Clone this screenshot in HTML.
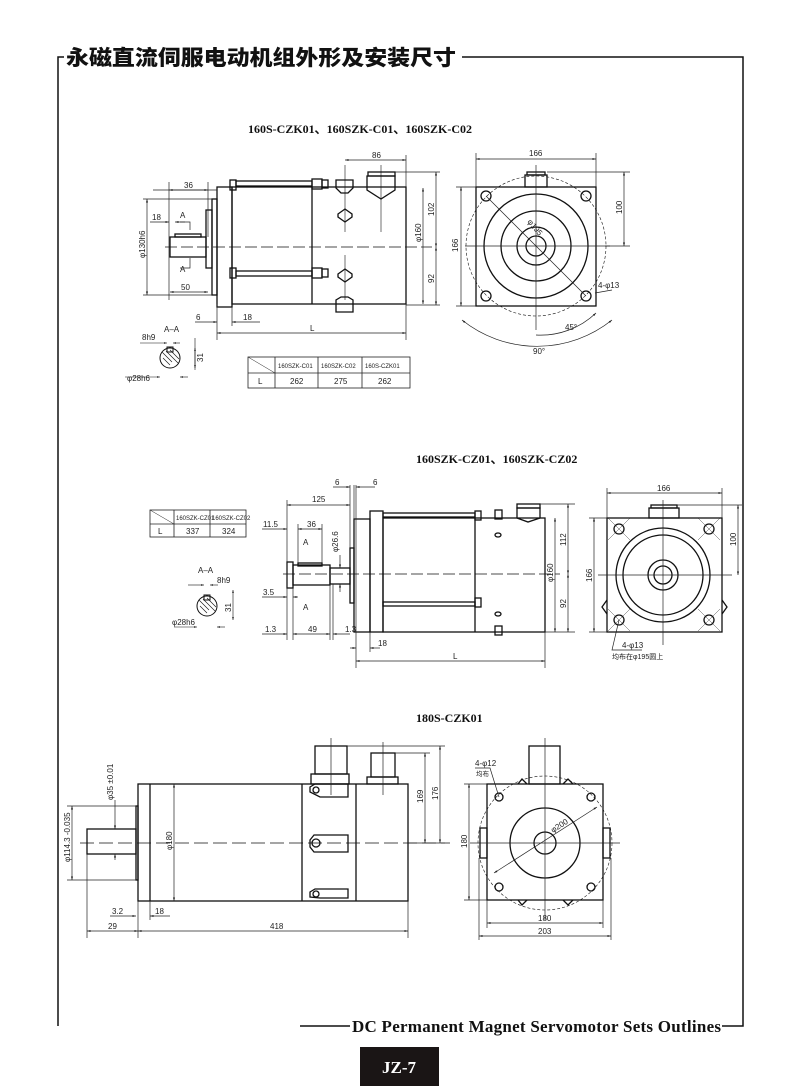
<!DOCTYPE html>
<html><head><meta charset="utf-8"><style>
html,body{margin:0;padding:0;background:#fff;}
svg{display:block}
.t{font-family:"Liberation Sans Narrow","Liberation Sans",sans-serif;font-size:8px;fill:#222}
.s{font-family:"Liberation Sans Narrow","Liberation Sans",sans-serif;font-size:6px;fill:#222}
.h{font-family:"Liberation Serif",serif;font-weight:bold;font-size:12px;fill:#111}
</style></head><body>
<svg width="800" height="1086" viewBox="0 0 800 1086" xmlns="http://www.w3.org/2000/svg">
<defs>
<marker id="a" viewBox="0 0 10 10" refX="10" refY="5" markerWidth="5" markerHeight="5" orient="auto-start-reverse"><path d="M0,2L10,5L0,8z" fill="#222"/></marker>
</defs>
<g stroke="#111" fill="none" stroke-width="1.5">
<path d="M58,1026V57H64"/>
<path d="M462,57H743V1026H722"/>
<path d="M300,1026H350"/>
</g>
<text x="66" y="65" font-family="'Noto Sans CJK SC','WenQuanYi Zen Hei',sans-serif" font-weight="900" font-size="21" fill="#111" textLength="390" lengthAdjust="spacingAndGlyphs">永磁直流伺服电动机组外形及安装尺寸</text>
<text x="352" y="1032" font-family="'Liberation Serif',serif" font-weight="bold" font-size="17" fill="#111" textLength="369">DC Permanent Magnet Servomotor Sets Outlines</text>
<rect x="360" y="1047" width="79" height="39" fill="#1a1515"/>
<text x="399" y="1073" text-anchor="middle" font-family="'Liberation Serif',serif" font-weight="bold" font-size="17" fill="#fff">JZ-7</text>

<text class="h" x="248" y="133">160S-CZK01、160SZK-C01、160SZK-C02</text>
<text class="h" x="416" y="463">160SZK-CZ01、160SZK-CZ02</text>
<text class="h" x="416" y="722">180S-CZK01</text>

<g stroke="#111" fill="none" stroke-width="1.3">
<rect x="170" y="237" width="36" height="20"/>
<rect x="175" y="234" width="26" height="3"/>
<rect x="206" y="210" width="6" height="58"/>
<rect x="212" y="199" width="5" height="96"/>
<rect x="217" y="187" width="15" height="120"/>
<rect x="230" y="180" width="6" height="10"/>
<rect x="230" y="268" width="6" height="10"/>
<rect x="232" y="187" width="174" height="117"/>
<line x1="312" y1="187" x2="312" y2="304"/>
<rect x="236" y="181" width="76" height="5"/>
<rect x="236" y="271" width="76" height="5"/>
<rect x="312" y="179" width="10" height="10"/><rect x="322" y="180" width="6" height="8"/>
<rect x="312" y="268" width="10" height="10"/><rect x="322" y="269" width="6" height="8"/>
<path d="M336,180H353V188L348,193H341L336,188Z"/>
<path d="M367,176H395V190L381,199L367,190Z"/>
<rect x="368" y="172" width="27" height="4"/>
<path d="M338,214L345,209L352,214L352,217L345,222L338,217Z"/>
<path d="M338,274L345,269L352,274L352,277L345,282L338,277Z"/>
<path d="M336,304V300L341,297H348L353,300V312H336Z"/>
<line x1="165" y1="247" x2="432" y2="247" stroke-dasharray="12,4" stroke-width=".8"/>
<line x1="345" y1="165" x2="345" y2="232" stroke-width=".6"/>
<line x1="381" y1="165" x2="381" y2="232" stroke-width=".6"/>
<line x1="345" y1="255" x2="345" y2="300" stroke-width=".6"/>
</g>
<g stroke="#222" fill="none" stroke-width=".7">
<line x1="345" y1="160" x2="406" y2="160" marker-start="url(#a)" marker-end="url(#a)"/>
<line x1="406" y1="155" x2="406" y2="187"/>
<line x1="395" y1="172" x2="440" y2="172"/><line x1="406" y1="305" x2="440" y2="305"/>
<line x1="436" y1="172" x2="436" y2="247" marker-start="url(#a)" marker-end="url(#a)"/>
<line x1="436" y1="247" x2="436" y2="305" marker-start="url(#a)" marker-end="url(#a)"/>
<line x1="423" y1="188" x2="423" y2="304" marker-start="url(#a)" marker-end="url(#a)"/>
<line x1="169" y1="190" x2="208" y2="190" marker-start="url(#a)" marker-end="url(#a)"/>
<line x1="153" y1="190" x2="217" y2="190"/>
<line x1="169" y1="182" x2="169" y2="300"/><line x1="208" y1="182" x2="208" y2="237"/>
<line x1="150" y1="222" x2="169" y2="222" marker-end="url(#a)"/><line x1="175" y1="222" x2="185" y2="222" marker-start="url(#a)"/>
<line x1="147" y1="199" x2="147" y2="295" marker-start="url(#a)" marker-end="url(#a)"/>
<line x1="143" y1="199" x2="212" y2="199"/><line x1="143" y1="295" x2="212" y2="295"/>
<line x1="170" y1="292" x2="208" y2="292" marker-start="url(#a)" marker-end="url(#a)"/>
<path d="M180,222H190V230M180,268H190V258"/>
<line x1="195" y1="322" x2="217" y2="322" marker-end="url(#a)"/><line x1="232" y1="322" x2="260" y2="322" marker-start="url(#a)"/>
<line x1="217" y1="304" x2="217" y2="340"/><line x1="232" y1="307" x2="232" y2="326"/>
<line x1="406" y1="304" x2="406" y2="340"/>
<line x1="217" y1="333" x2="406" y2="333" marker-start="url(#a)" marker-end="url(#a)"/>
</g>
<text class="t" x="372" y="158">86</text>
<text class="t" x="184" y="188">36</text>
<text class="t" x="152" y="220">18</text>
<text class="t" x="180" y="218">A</text><text class="t" x="180" y="272">A</text>
<text class="t" x="181" y="290">50</text>
<text class="t" x="196" y="320">6</text><text class="t" x="243" y="320">18</text>
<text class="t" x="310" y="331">L</text>
<text class="t" transform="translate(145,258) rotate(-90)">φ130h6</text>
<text class="t" transform="translate(421,242) rotate(-90)">φ160</text>
<text class="t" transform="translate(434,216) rotate(-90)">102</text>
<text class="t" transform="translate(434,283) rotate(-90)">92</text>
<g stroke="#111" fill="none" stroke-width="1">
<circle cx="170" cy="358" r="10"/>
<path d="M162,352L172,362M163,358L170,365M166,351L178,363M170,350L179,359" stroke-width=".6"/>
<rect x="167" y="347" width="6" height="5"/>
<line x1="140" y1="343" x2="167" y2="343" stroke-width=".6" marker-end="url(#a)"/><line x1="173" y1="343" x2="180" y2="343" stroke-width=".6" marker-start="url(#a)"/>
<line x1="195" y1="338" x2="195" y2="370" stroke-width=".6"/>
<line x1="195" y1="348" x2="195" y2="368" stroke-width=".6" marker-start="url(#a)" marker-end="url(#a)"/>
<line x1="125" y1="377" x2="160" y2="377" stroke-width=".6" marker-end="url(#a)"/><line x1="180" y1="377" x2="188" y2="377" stroke-width=".6" marker-start="url(#a)"/>
</g>
<text class="t" x="142" y="340">8h9</text><text class="t" x="164" y="332">A–A</text>
<text class="t" transform="translate(203,362) rotate(-90)">31</text>
<text class="t" x="127" y="381">φ28h6</text>
<g stroke="#222" fill="none" stroke-width=".8">
<rect x="248" y="357" width="162" height="31"/>
<line x1="248" y1="373" x2="410" y2="373"/>
<line x1="275" y1="357" x2="275" y2="388"/><line x1="318" y1="357" x2="318" y2="388"/><line x1="362" y1="357" x2="362" y2="388"/>
<line x1="248" y1="357" x2="275" y2="373" stroke-width=".5"/>
</g>
<text class="s" x="278" y="368">160SZK-C01</text><text class="s" x="321" y="368">160SZK-C02</text><text class="s" x="365" y="368">160S-CZK01</text>
<text class="t" x="258" y="384">L</text><text class="t" x="290" y="384">262</text><text class="t" x="334" y="384">275</text><text class="t" x="378" y="384">262</text>

<g stroke="#111" fill="none" stroke-width="1.3">
<rect x="476" y="187" width="120" height="119"/>
<rect x="525" y="175" width="22" height="12"/><rect x="527" y="172" width="18" height="3"/>
<circle cx="536" cy="246" r="52"/><circle cx="536" cy="246" r="35"/><circle cx="536" cy="246" r="19"/><circle cx="536" cy="246" r="10"/>
<circle cx="536" cy="246" r="70" stroke-dasharray="3,2" stroke-width=".6"/>
<circle cx="486" cy="196" r="5"/><circle cx="586" cy="196" r="5"/><circle cx="486" cy="296" r="5"/><circle cx="586" cy="296" r="5"/>
</g>
<g stroke="#222" fill="none" stroke-width=".7">
<line x1="465" y1="246" x2="610" y2="246"/><line x1="536" y1="165" x2="536" y2="330"/>
<line x1="486" y1="196" x2="586" y2="296"/>
<line x1="476" y1="159" x2="596" y2="159" marker-start="url(#a)" marker-end="url(#a)"/>
<line x1="476" y1="153" x2="476" y2="187"/><line x1="596" y1="153" x2="596" y2="187"/>
<line x1="461" y1="187" x2="461" y2="306" marker-start="url(#a)" marker-end="url(#a)"/>
<line x1="456" y1="187" x2="476" y2="187"/><line x1="456" y1="306" x2="476" y2="306"/>
<line x1="624" y1="172" x2="624" y2="246" marker-start="url(#a)" marker-end="url(#a)"/>
<line x1="547" y1="172" x2="630" y2="172"/><line x1="605" y1="246" x2="630" y2="246"/>
<path d="M462,320A120,120 0 0 0 612,320" marker-start="url(#a)" marker-end="url(#a)"/>
<path d="M536,335A80,80 0 0 0 596,313" marker-end="url(#a)"/>
<line x1="595" y1="293" x2="612" y2="290"/>
</g>
<text class="t" x="529" y="156">166</text>
<text class="t" transform="translate(458,252) rotate(-90)">166</text>
<text class="t" transform="translate(622,214) rotate(-90)">100</text>
<text class="t" transform="translate(527,222) rotate(50)">φ195</text>
<text class="t" x="598" y="288">4-φ13</text>
<text class="t" x="565" y="330">45°</text>
<text class="t" x="533" y="354">90°</text>

<g stroke="#111" fill="none" stroke-width="1.3">
<rect x="287" y="562" width="6" height="26"/>
<rect x="293" y="565" width="37" height="20"/>
<rect x="298" y="563" width="24" height="3"/>
<rect x="330" y="568" width="20" height="16"/>
<rect x="350" y="548" width="4" height="55"/>
<rect x="354" y="519" width="16" height="113"/>
<rect x="370" y="511" width="13" height="121"/>
<rect x="383" y="518" width="162" height="114"/>
<line x1="475" y1="518" x2="475" y2="632"/>
<rect x="383" y="513" width="92" height="4"/>
<rect x="383" y="602" width="92" height="4"/>
<rect x="475" y="511" width="6" height="9"/><rect x="475" y="598" width="6" height="9"/>
<rect x="495" y="510" width="7" height="9"/><rect x="495" y="626" width="7" height="9"/>
<ellipse cx="498" cy="535" rx="3" ry="2"/><ellipse cx="498" cy="614" rx="3" ry="2"/>
<path d="M517,508H540V518L528,522L517,518Z"/><rect x="517" y="504" width="23" height="4"/>
<line x1="283" y1="574" x2="560" y2="574" stroke-dasharray="12,4" stroke-width=".8"/>
</g>
<g stroke="#222" fill="none" stroke-width=".7">
<line x1="287" y1="505" x2="350" y2="505" marker-start="url(#a)" marker-end="url(#a)"/>
<line x1="287" y1="500" x2="287" y2="640"/><line x1="350" y1="485" x2="350" y2="548"/>
<line x1="354" y1="485" x2="354" y2="519"/><line x1="356" y1="485" x2="356" y2="668"/>
<line x1="333" y1="487" x2="350" y2="487" marker-end="url(#a)"/><line x1="356" y1="487" x2="375" y2="487" marker-start="url(#a)"/>
<line x1="298" y1="529" x2="322" y2="529" marker-start="url(#a)" marker-end="url(#a)"/>
<line x1="298" y1="524" x2="298" y2="563"/><line x1="322" y1="524" x2="322" y2="563"/>
<line x1="262" y1="529" x2="287" y2="529" marker-end="url(#a)"/>
<line x1="340" y1="555" x2="340" y2="568" marker-end="url(#a)"/><line x1="340" y1="584" x2="340" y2="592" marker-start="url(#a)"/>
<line x1="262" y1="597" x2="287" y2="597" marker-end="url(#a)"/><line x1="293" y1="597" x2="298" y2="597" marker-start="url(#a)"/>
<line x1="293" y1="588" x2="293" y2="640"/><line x1="330" y1="584" x2="330" y2="640"/><line x1="333" y1="584" x2="333" y2="640"/>
<line x1="262" y1="634" x2="287" y2="634" marker-end="url(#a)"/><line x1="293" y1="634" x2="330" y2="634" marker-start="url(#a)" marker-end="url(#a)"/><line x1="333" y1="634" x2="350" y2="634" marker-start="url(#a)"/>
<line x1="350" y1="648" x2="356" y2="648" marker-end="url(#a)"/><line x1="370" y1="648" x2="380" y2="648" marker-start="url(#a)"/>
<line x1="370" y1="632" x2="370" y2="652"/>
<line x1="356" y1="661" x2="545" y2="661" marker-start="url(#a)" marker-end="url(#a)"/>
<line x1="545" y1="632" x2="545" y2="668"/>
<line x1="555" y1="518" x2="555" y2="632" marker-start="url(#a)" marker-end="url(#a)"/>
<line x1="568" y1="504" x2="568" y2="574" marker-start="url(#a)" marker-end="url(#a)"/>
<line x1="568" y1="574" x2="568" y2="632" marker-start="url(#a)" marker-end="url(#a)"/>
<line x1="540" y1="504" x2="575" y2="504"/><line x1="545" y1="632" x2="575" y2="632"/>
</g>
<text class="t" x="312" y="502">125</text>
<text class="t" x="335" y="485">6</text><text class="t" x="373" y="485">6</text>
<text class="t" x="307" y="527">36</text><text class="t" x="263" y="527">11.5</text>
<text class="t" x="303" y="545">A</text><text class="t" x="303" y="610">A</text>
<text class="t" transform="translate(338,552) rotate(-90)">φ26.6</text>
<text class="t" x="263" y="595">3.5</text>
<text class="t" x="265" y="632">1.3</text><text class="t" x="308" y="632">49</text><text class="t" x="345" y="632">1.3</text>
<text class="t" x="378" y="646">18</text><text class="t" x="453" y="659">L</text>
<text class="t" transform="translate(553,582) rotate(-90)">φ160</text>
<text class="t" transform="translate(566,546) rotate(-90)">112</text>
<text class="t" transform="translate(566,608) rotate(-90)">92</text>
<g stroke="#222" fill="none" stroke-width=".8">
<rect x="150" y="510" width="96" height="27"/>
<line x1="150" y1="524" x2="246" y2="524"/>
<line x1="174" y1="510" x2="174" y2="537"/><line x1="210" y1="510" x2="210" y2="537"/>
<line x1="150" y1="510" x2="174" y2="524" stroke-width=".5"/>
</g>
<text class="s" x="176" y="520" font-size="5.5">160SZK-CZ01</text><text class="s" x="212" y="520" font-size="5.5">160SZK-CZ02</text>
<text class="t" x="158" y="534">L</text><text class="t" x="186" y="534">337</text><text class="t" x="222" y="534">324</text>
<g stroke="#111" fill="none" stroke-width="1">
<circle cx="207" cy="606" r="10"/>
<path d="M199,600L209,610M200,606L207,613M203,599L215,611M207,598L216,607" stroke-width=".6"/>
<rect x="204" y="595" width="6" height="5"/>
<line x1="188" y1="585" x2="204" y2="585" stroke-width=".6" marker-end="url(#a)"/><line x1="210" y1="585" x2="218" y2="585" stroke-width=".6" marker-start="url(#a)"/>
<line x1="233" y1="590" x2="233" y2="620" stroke-width=".6" marker-start="url(#a)" marker-end="url(#a)"/>
<line x1="174" y1="627" x2="197" y2="627" stroke-width=".6" marker-end="url(#a)"/><line x1="217" y1="627" x2="225" y2="627" stroke-width=".6" marker-start="url(#a)"/>
</g>
<text class="t" x="198" y="573">A–A</text><text class="t" x="217" y="583">8h9</text>
<text class="t" transform="translate(231,612) rotate(-90)">31</text>
<text class="t" x="172" y="625">φ28h6</text>

<g stroke="#111" fill="none" stroke-width="1.3">
<rect x="607" y="518" width="115" height="114"/>
<rect x="649" y="508" width="30" height="10"/><rect x="651" y="505" width="26" height="3"/>
<circle cx="663" cy="575" r="47"/><circle cx="663" cy="575" r="40"/><circle cx="663" cy="575" r="15"/><circle cx="663" cy="575" r="9"/>
<circle cx="619" cy="529" r="5"/><circle cx="709" cy="529" r="5"/><circle cx="619" cy="620" r="5"/><circle cx="709" cy="620" r="5"/>
<path d="M607,600L602,607L607,614M722,600L727,607L722,614"/>
</g>
<g stroke="#222" fill="none" stroke-width=".7">
<line x1="598" y1="575" x2="732" y2="575"/><line x1="663" y1="500" x2="663" y2="645"/>
<path d="M608,518L630,540M630,518L608,540M698,518L720,540M720,518L698,540M608,609L630,631M630,609L608,631M698,609L720,631M720,609L698,631" stroke-width=".4"/>
<line x1="607" y1="493" x2="722" y2="493" marker-start="url(#a)" marker-end="url(#a)"/>
<line x1="607" y1="488" x2="607" y2="518"/><line x1="722" y1="488" x2="722" y2="518"/>
<line x1="594" y1="518" x2="594" y2="632" marker-start="url(#a)" marker-end="url(#a)"/>
<line x1="589" y1="518" x2="607" y2="518"/><line x1="589" y1="632" x2="607" y2="632"/>
<line x1="738" y1="505" x2="738" y2="575" marker-start="url(#a)" marker-end="url(#a)"/>
<line x1="677" y1="505" x2="742" y2="505"/>
<path d="M619,620L612,650H642"/>
</g>
<text class="t" x="657" y="491">166</text>
<text class="t" transform="translate(592,582) rotate(-90)">166</text>
<text class="t" transform="translate(736,546) rotate(-90)">100</text>
<text class="t" x="622" y="648">4-φ13</text>
<text x="612" y="659" font-family="'Liberation Sans','Noto Sans CJK SC',sans-serif" font-size="7" fill="#222">均布在φ195圆上</text>

<g stroke="#111" fill="none" stroke-width="1.3">
<rect x="87" y="829" width="49" height="25"/>
<rect x="136" y="806" width="2" height="74"/>
<rect x="138" y="784" width="270" height="117"/>
<line x1="150" y1="784" x2="150" y2="901"/>
<line x1="302" y1="784" x2="302" y2="901"/><line x1="356" y1="784" x2="356" y2="901"/>
<rect x="315" y="746" width="32" height="28"/><rect x="311" y="774" width="38" height="10"/>
<rect x="371" y="753" width="24" height="24"/><rect x="367" y="777" width="31" height="7"/>
<path d="M310,787L315,784H348V797H320L310,792Z"/><circle cx="316" cy="790" r="3"/>
<path d="M310,840L314,835H348V852H314L310,847Z"/><circle cx="316" cy="843" r="4"/>
<path d="M310,892L315,889H348V898H320L310,897Z"/><circle cx="316" cy="894" r="3"/>
<line x1="80" y1="843" x2="450" y2="843" stroke-dasharray="14,5" stroke-width=".8"/>
</g>
<g stroke="#222" fill="none" stroke-width=".7">
<line x1="331" y1="738" x2="331" y2="795"/><line x1="383" y1="742" x2="383" y2="795"/>
<line x1="347" y1="746" x2="445" y2="746"/><line x1="395" y1="753" x2="430" y2="753"/>
<line x1="408" y1="843" x2="445" y2="843"/>
<line x1="425" y1="753" x2="425" y2="843" marker-start="url(#a)" marker-end="url(#a)"/>
<line x1="440" y1="746" x2="440" y2="843" marker-start="url(#a)" marker-end="url(#a)"/>
<line x1="174" y1="784" x2="174" y2="901" marker-start="url(#a)" marker-end="url(#a)"/>
<line x1="72" y1="806" x2="72" y2="880" marker-start="url(#a)" marker-end="url(#a)"/>
<line x1="67" y1="806" x2="136" y2="806"/><line x1="67" y1="880" x2="136" y2="880"/>
<line x1="115" y1="800" x2="115" y2="829" marker-end="url(#a)"/><line x1="115" y1="854" x2="115" y2="860" marker-start="url(#a)"/>
<line x1="87" y1="854" x2="87" y2="938"/><line x1="138" y1="901" x2="138" y2="938"/><line x1="408" y1="901" x2="408" y2="938"/>
<line x1="87" y1="931" x2="138" y2="931" marker-start="url(#a)" marker-end="url(#a)"/>
<line x1="138" y1="931" x2="408" y2="931" marker-start="url(#a)" marker-end="url(#a)"/>
<line x1="110" y1="916" x2="136" y2="916" marker-end="url(#a)"/><line x1="150" y1="916" x2="170" y2="916" marker-start="url(#a)"/>
<line x1="150" y1="901" x2="150" y2="920"/>
</g>
<text class="t" transform="translate(113,800) rotate(-90)">φ35 ±0.01</text>
<text class="t" transform="translate(70,862) rotate(-90)">φ114.3 -0.035</text>
<text class="t" transform="translate(172,850) rotate(-90)">φ180</text>
<text class="t" transform="translate(423,803) rotate(-90)">169</text>
<text class="t" transform="translate(438,800) rotate(-90)">176</text>
<text class="t" x="112" y="914">3.2</text><text class="t" x="155" y="914">18</text>
<text class="t" x="108" y="929">29</text><text class="t" x="270" y="929">418</text>

<g stroke="#111" fill="none" stroke-width="1.3">
<rect x="487" y="784" width="116" height="116"/>
<rect x="529" y="746" width="31" height="38"/>
<rect x="480" y="828" width="7" height="30"/><rect x="603" y="828" width="7" height="30"/>
<circle cx="545" cy="843" r="35"/><circle cx="545" cy="843" r="11"/>
<circle cx="545" cy="843" r="67" stroke-dasharray="3,2" stroke-width=".6"/>
<circle cx="499" cy="797" r="4"/><circle cx="591" cy="797" r="4"/><circle cx="499" cy="887" r="4"/><circle cx="591" cy="887" r="4"/>
<path d="M518,784L522,779L527,784M563,784L568,779L573,784M518,900L522,905L527,900M563,900L568,905L573,900"/>
</g>
<g stroke="#222" fill="none" stroke-width=".7">
<line x1="470" y1="843" x2="620" y2="843"/><line x1="545" y1="738" x2="545" y2="920"/>
<line x1="494" y1="873" x2="597" y2="807" marker-start="url(#a)" marker-end="url(#a)"/>
<line x1="487" y1="923" x2="603" y2="923" marker-start="url(#a)" marker-end="url(#a)"/>
<line x1="479" y1="936" x2="611" y2="936" marker-start="url(#a)" marker-end="url(#a)"/>
<line x1="487" y1="900" x2="487" y2="928"/><line x1="603" y1="900" x2="603" y2="928"/>
<line x1="479" y1="858" x2="479" y2="940"/><line x1="611" y1="858" x2="611" y2="940"/>
<line x1="469" y1="784" x2="469" y2="900" marker-start="url(#a)" marker-end="url(#a)"/>
<line x1="464" y1="784" x2="487" y2="784"/><line x1="464" y1="900" x2="487" y2="900"/>
<path d="M475,768H490L499,797"/>
</g>
<text class="t" x="475" y="766">4-φ12</text>
<text x="476" y="776" font-family="'Liberation Sans','Noto Sans CJK SC',sans-serif" font-size="6.5" fill="#222">均布</text>
<text class="t" transform="translate(553,833) rotate(-33)">φ200</text>
<text class="t" transform="translate(467,848) rotate(-90)">180</text>
<text class="t" x="538" y="921">180</text><text class="t" x="538" y="934">203</text>
</svg>
</body></html>
